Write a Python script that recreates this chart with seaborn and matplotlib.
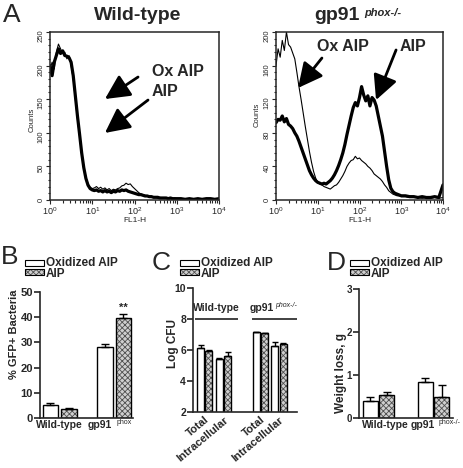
import numpy as np
import pandas as pd
import matplotlib
matplotlib.use("Agg")
import matplotlib.pyplot as plt
import matplotlib.colors as mcolors
from matplotlib.patches import Rectangle
from matplotlib.ticker import MultipleLocator
import seaborn as sns

# ==========================
# Data
# ==========================

# flow cytometry channels (log10 of FL1-H)
fl1_exp = np.r_[np.round(np.arange(0, 3.001, 0.05), 2), np.round(np.arange(3.1, 4.01, 0.1), 1)]

wt_aip = [200, 185, 205, 215, 225, 218, 222, 215, 214, 212,
          205, 185, 155, 125, 98, 70, 48, 32, 22, 17,
          15, 14, 15, 13, 14, 12, 14, 12, 13, 11,
          13, 12, 14, 13, 15, 14, 15, 13, 12, 11,
          10, 9, 8, 8, 7, 6, 6, 5, 5, 4,
          4, 4, 3, 3, 3, 3, 2, 3, 2, 2,
          2,
          2, 1, 2, 1, 2, 1, 2, 2, 1, 2]
wt_ox = [195, 205, 195, 220, 232, 225, 218, 220, 210, 215,
         200, 180, 150, 120, 95, 68, 47, 33, 24, 19,
         17, 18, 20, 17, 19, 16, 18, 15, 17, 14,
         16, 15, 17, 18, 21, 22, 25, 23, 24, 20,
         17, 14, 11, 9, 8, 7, 6, 5, 5, 4,
         4, 3, 4, 3, 3, 2, 3, 2, 2, 3,
         2,
         2, 2, 1, 2, 1, 2, 1, 2, 2, 1]
ko_aip = [92, 96, 95, 100, 93, 97, 90, 88, 85, 80,
          76, 70, 63, 56, 49, 42, 35, 30, 26, 23,
          21, 20, 19, 20, 19, 21, 23, 26, 30, 35,
          41, 48, 56, 66, 78, 89, 100, 110, 116, 112,
          122, 135, 125, 118, 124, 112, 122, 119, 112, 100,
          88, 76, 58, 40, 24, 14, 10, 8, 7, 6,
          5,
          5, 4, 4, 3, 4, 3, 3, 4, 3, 18]
ko_ox = [160, 180, 170, 190, 178, 200, 185, 182, 175, 168,
         152, 135, 120, 104, 88, 73, 58, 45, 34, 26,
         21, 19, 18, 16, 15, 14, 13, 15, 17, 18,
         21, 25, 29, 34, 40, 44, 47, 48, 52, 49,
         50, 47, 45, 43, 40, 38, 35, 31, 29, 27,
         25, 22, 18, 15, 11, 9, 7, 6, 5, 5,
         4,
         4, 3, 3, 3, 2, 3, 2, 3, 2, 3]

treatments = ["Oxidized AIP", "AIP"]
genotypes = ["Wild-type", "gp91"]

# B: % GFP+ bacteria
gfp_ox = [5.3, 28.3]
gfp_aip = [3.6, 39.6]
gfp_ox_sem = [0.5, 0.9]
gfp_aip_sem = [0.5, 1.5]

# C: log CFU
cfu_groups = ["WT Total", "WT Intracellular", "KO Total", "KO Intracellular"]
cfu_order = ["WT Total", "WT Intracellular", "", "KO Total", "KO Intracellular"]
cfu_ticklabels = ["Total", "Intracellular", "Total", "Intracellular"]
cfu_ox = [6.15, 5.42, 7.13, 6.28]
cfu_aip = [5.93, 5.63, 7.07, 6.37]
cfu_ox_sem = [0.15, 0.06, 0.03, 0.22]
cfu_aip_sem = [0.04, 0.25, 0.03, 0.09]

# D: weight loss
wl_ox = [0.39, 0.84]
wl_aip = [0.53, 0.48]
wl_ox_sem = [0.09, 0.08]
wl_aip_sem = [0.08, 0.29]

# ==========================
# Style
# ==========================

sns.set_style("ticks")
plt.rcParams["font.family"] = ["Liberation Sans", "DejaVu Sans"]
plt.rcParams["mathtext.default"] = "regular"
plt.rcParams["hatch.linewidth"] = 0.6

W, H = 463, 468
AIP_FACE = "#cfcfcf"
AIP_HATCH = "#505050"

fig = plt.figure(figsize=(W / 100, H / 100), dpi=100)


def px_axes(l, t, r, b):
    return fig.add_axes([l / W, 1 - b / H, (r - l) / W, (b - t) / H])


def ftext(x, y, s, **kw):
    fig.text(x / W, 1 - y / H, s, **kw)


def set_hatch(p):
    p.set_hatch("xxxxxx")
    if hasattr(p, "set_hatchcolor"):
        p.set_hatchcolor(AIP_HATCH)
    else:
        p._hatch_color = mcolors.to_rgba(AIP_HATCH)


# ==========================
# A: histograms
# ==========================

fl1 = 10 ** fl1_exp


def hist_panel(ax, aip, ox, ymax, major, minor):
    sns.lineplot(x=fl1, y=aip, ax=ax, color="black", linewidth=2.3)
    sns.lineplot(x=fl1, y=ox, ax=ax, color="black", linewidth=0.8)
    ax.set_xscale("log")
    ax.set_xlim(1, 1e4)
    ax.set_ylim(0, ymax)
    ax.yaxis.set_major_locator(MultipleLocator(major))
    ax.yaxis.set_minor_locator(MultipleLocator(minor))
    ax.tick_params(which="both", direction="out", width=0.8, labelsize=6.5, pad=1)
    ax.tick_params(which="major", length=3)
    ax.tick_params(which="minor", length=1.8)
    ax.tick_params(axis="y", labelrotation=90, labelsize=5.5)
    for s in ax.spines.values():
        s.set_linewidth(1.1)
    ax.set_xlabel("FL1-H", fontsize=6, labelpad=0)
    ax.set_ylabel("Counts", fontsize=5.5)


axA1 = px_axes(50, 32, 219, 200)
hist_panel(axA1, wt_aip, wt_ox, 250, 50, 10)
axA1.yaxis.set_label_coords(-0.085, 0.476)

axA2 = px_axes(276, 32, 443, 200)
hist_panel(axA2, ko_aip, ko_ox, 200, 40, 8)
axA2.yaxis.set_label_coords(-0.09, 0.506)

arrow = dict(arrowstyle="-|>,head_length=0.5,head_width=0.25", color="black",
             lw=2, mutation_scale=30, shrinkA=0, shrinkB=0)
label_kw = dict(fontsize=11.5, fontweight="bold", va="center", ha="left")

axA1.annotate("", xy=(0.325, 0.601), xytext=(0.521, 0.732), xycoords="axes fraction", arrowprops=arrow)
axA1.annotate("", xy=(0.325, 0.399), xytext=(0.580, 0.595), xycoords="axes fraction", arrowprops=arrow)
axA1.text(0.604, 0.762, "Ox AIP", transform=axA1.transAxes, **label_kw)
axA1.text(0.604, 0.643, "AIP", transform=axA1.transAxes, **label_kw)

axA2.annotate("", xy=(0.132, 0.667), xytext=(0.275, 0.845), xycoords="axes fraction", arrowprops=arrow)
axA2.annotate("", xy=(0.599, 0.595), xytext=(0.719, 0.893), xycoords="axes fraction", arrowprops=arrow)
axA2.text(0.246, 0.911, "Ox AIP", transform=axA2.transAxes, **label_kw)
axA2.text(0.743, 0.911, "AIP", transform=axA2.transAxes, **label_kw)

ftext(138, 15, "Wild-type", fontsize=14, fontweight="bold", ha="center", va="center")
ftext(337, 15, "gp91", fontsize=14, fontweight="bold", ha="center", va="center")
ftext(364, 13, "phox-/-", fontsize=8, fontweight="bold", style="italic", ha="left", va="center")

# ==========================
# B-D: bar charts
# ==========================


def bar_panel(ax, cats, order, ox, aip, ox_sem, aip_sem, width, gap, capsize):
    df = pd.DataFrame({
        "group": cats + cats,
        "treatment": [treatments[0]] * len(cats) + [treatments[1]] * len(cats),
        "value": ox + aip,
    })
    sns.barplot(data=df, x="group", y="value", hue="treatment", order=order,
                hue_order=treatments, palette=["white", AIP_FACE], edgecolor="black",
                linewidth=1.0, width=width, gap=gap, errorbar=None, legend=False,
                saturation=1, ax=ax)
    bars = list(ax.containers[:2])
    for p in bars[1]:
        set_hatch(p)
    for cont, sems in zip(bars, [ox_sem, aip_sem]):
        xs = [b.get_x() + b.get_width() / 2 for b in cont]
        ys = [b.get_height() for b in cont]
        ax.errorbar(xs, ys, yerr=[np.zeros(len(sems)), sems], fmt="none",
                    ecolor="black", elinewidth=1.0, capsize=capsize, capthick=1.0)
    sns.despine(ax=ax)
    for s in ["left", "bottom"]:
        ax.spines[s].set_linewidth(1.2)
    ax.tick_params(axis="y", direction="out", length=4, width=1.2, pad=1)
    ax.tick_params(axis="x", length=0)
    ax.set_xlabel("")
    return bars


def bold_ticks(ax, size):
    for lbl in ax.get_yticklabels():
        lbl.set_fontweight("bold")
        lbl.set_fontsize(size)


def key(x, y):
    # two-row legend drawn at pixel position (x, y) = top-left of first swatch
    fig.add_artist(Rectangle((x / W, 1 - (y + 6) / H), 19 / W, 6 / H, transform=fig.transFigure,
                             facecolor="white", edgecolor="black", lw=0.8))
    r = Rectangle((x / W, 1 - (y + 15) / H), 19 / W, 6 / H, transform=fig.transFigure,
                  facecolor=AIP_FACE, edgecolor="black", lw=0.8)
    set_hatch(r)
    fig.add_artist(r)
    ftext(x + 21, y + 8.5, "\n".join(treatments), fontsize=8.5, fontweight="bold",
          va="center", linespacing=0.78)


# ---- B ----
axB = px_axes(40, 292, 133, 418)
barsB = bar_panel(axB, genotypes, genotypes, gfp_ox, gfp_aip, gfp_ox_sem, gfp_aip_sem,
                  width=0.675, gap=0.15, capsize=3)
axB.set_ylim(0, 50)
axB.set_xlim(-0.36, 1.345)
axB.yaxis.set_major_locator(MultipleLocator(10))
axB.set_xticks([])
bold_ticks(axB, 8)
axB.set_ylabel("% GFP+ Bacteria", fontsize=8, fontweight="bold")
axB.yaxis.set_label_coords(-0.23, 0.667)
top = barsB[1][1]
axB.text(top.get_x() + top.get_width() / 2, top.get_height() + gfp_aip_sem[1] + 0.8, "**",
         ha="center", va="bottom", fontsize=8, fontweight="bold")
xtB = axB.get_xaxis_transform()
axB.text(0, -0.056, "Wild-type", transform=xtB, ha="center", va="center", fontsize=7.5, fontweight="bold")
axB.text(0.95, -0.056, "gp91", transform=xtB, ha="right", va="center", fontsize=7.5, fontweight="bold")
axB.text(1.05, -0.035, "phox", transform=xtB, ha="left", va="center", fontsize=5)
key(25, 260)

# ---- C ----
axC = px_axes(193, 288, 297, 412)
bar_panel(axC, cfu_groups, cfu_order, cfu_ox, cfu_aip, cfu_ox_sem, cfu_aip_sem,
          width=0.9, gap=0.16, capsize=2)
axC.set_ylim(2, 10)
axC.set_xlim(-0.63, 4.96)
axC.yaxis.set_major_locator(MultipleLocator(2))
axC.set_xticks([0, 1, 3, 4])
axC.set_xticklabels(cfu_ticklabels, rotation=40, ha="right", rotation_mode="anchor",
                    fontsize=8, fontweight="bold")
axC.tick_params(axis="x", pad=2)
bold_ticks(axC, 7.5)
axC.set_ylabel("Log CFU", fontsize=8.5, fontweight="bold")
axC.yaxis.set_label_coords(-0.13, 0.55)
axC.hlines(8, -0.54, 1.78, color="#333333", lw=1.3, clip_on=False)
axC.hlines(8, 2.52, 4.96, color="#333333", lw=1.3, clip_on=False)
axC.text(0.62, 8.69, "Wild-type", ha="center", va="center", fontsize=7.5, fontweight="bold")
axC.text(2.43, 8.69, "gp91", ha="left", va="center", fontsize=7.5, fontweight="bold")
axC.text(3.78, 8.85, "phox-/-", ha="left", va="center", fontsize=5, style="italic")
key(180, 260)

# ---- D ----
axD = px_axes(359, 289, 453, 418)
bar_panel(axD, genotypes, genotypes, wl_ox, wl_aip, wl_ox_sem, wl_aip_sem,
          width=0.6, gap=0.1, capsize=3)
axD.set_ylim(0, 3)
axD.set_xlim(-0.35, 1.35)
axD.yaxis.set_major_locator(MultipleLocator(1))
axD.set_xticks([])
bold_ticks(axD, 7)
axD.set_ylabel("Weight loss, g", fontsize=8.5, fontweight="bold")
axD.yaxis.set_label_coords(-0.13, 0.35)
xtD = axD.get_xaxis_transform()
axD.text(0.13, -0.054, "Wild-type", transform=xtD, ha="center", va="center", fontsize=7.5, fontweight="bold")
axD.text(1.02, -0.054, "gp91", transform=xtD, ha="right", va="center", fontsize=7.5, fontweight="bold")
axD.text(1.09, -0.036, "phox-/-", transform=xtD, ha="left", va="center", fontsize=5)
key(350, 260)

# ==========================
# Panel letters
# ==========================

ftext(3, 3, "A", fontsize=19, va="top")
ftext(1, 245, "B", fontsize=19, va="top")
ftext(152, 251, "C", fontsize=19, va="top")
ftext(327, 251, "D", fontsize=19, va="top")

plt.savefig("out.png", dpi=100)
